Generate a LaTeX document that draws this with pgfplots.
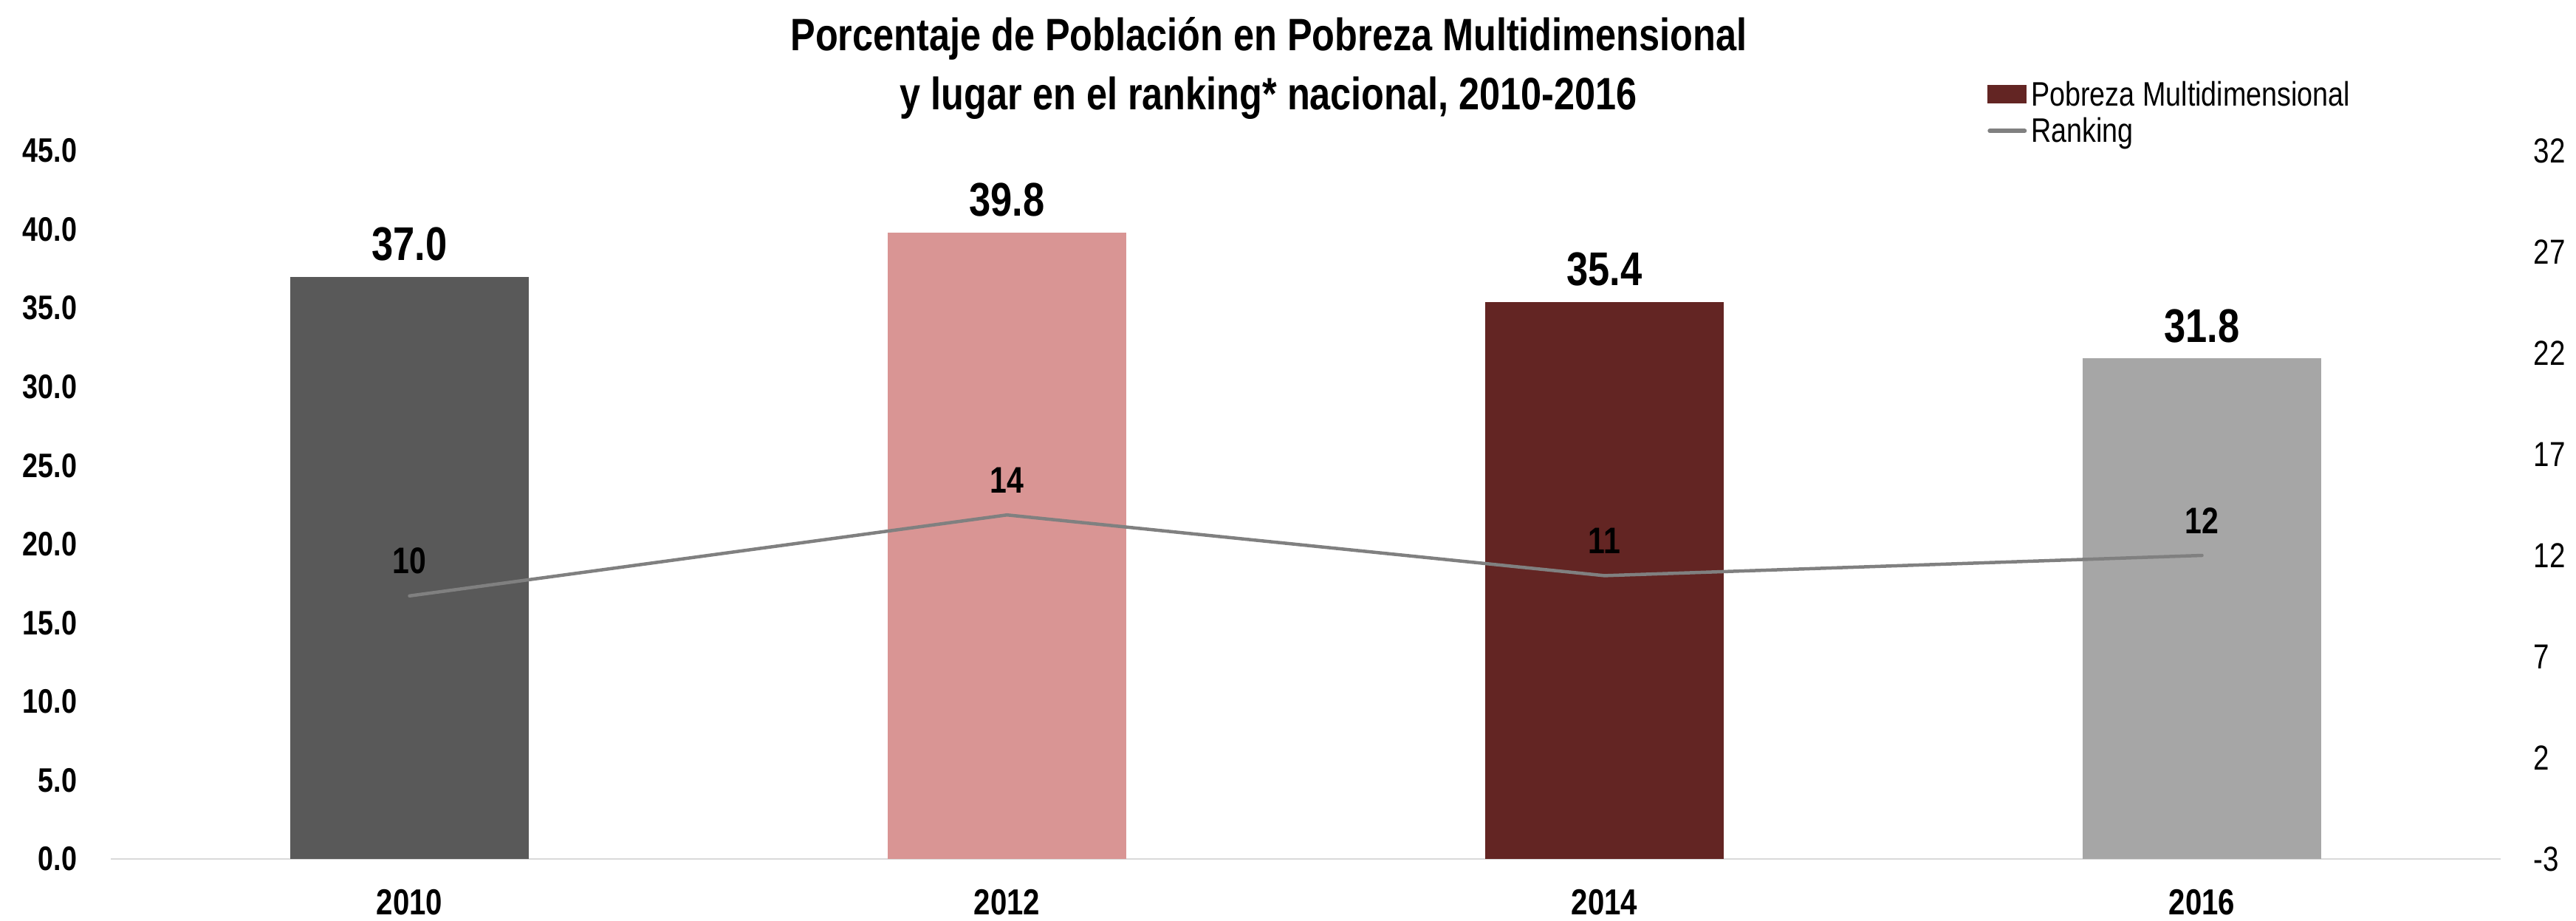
\documentclass[border=0pt]{standalone}
\usepackage{fontspec}
\setmainfont{Liberation Sans}[FakeStretch=0.82]
\usepackage{pgfplots}
\pgfplotsset{compat=1.18}
\definecolor{c2010}{HTML}{595959}
\definecolor{c2012}{HTML}{D99594}
\definecolor{c2014}{HTML}{632523}
\definecolor{c2016}{HTML}{A6A6A6}
\definecolor{cline}{HTML}{808080}
\definecolor{cbase}{HTML}{D9D9D9}
\begin{document}
\begin{tikzpicture}
\useasboundingbox (0,0) rectangle (697.6pt,249.2pt);
\begin{axis}[
  at={(30pt,16.6pt)}, anchor=south west,
  scale only axis, width=647.2pt, height=191.8pt,
  xmin=-0.5, xmax=3.5, ymin=0, ymax=45,
  clip=false,
  axis y line*=left, y axis line style={draw=none},
  axis x line*=bottom, x axis line style={draw=cbase, line width=0.5pt, -},
  tick style={draw=none}, major tick length=0pt,
  ytick={0,5,10,15,20,25,30,35,40,45},
  xtick={0,1,2,3}, xticklabels={2010,2012,2014,2016},
  /pgf/number format/assume math mode=true,
  yticklabel={\pgfmathprintnumber[fixed,fixed zerofill,precision=1]{\tick}},
  yticklabel style={font=\bfseries\fontsize{9.2}{11}\selectfont, xshift=-5.6pt},
  xticklabel style={font=\bfseries\fontsize{9.8}{11}\selectfont, yshift=-4.7pt},
  title={Porcentaje de Población en Pobreza Multidimensional\\y lugar en el ranking* nacional, 2010-2016},
  title style={at={(0.4845,1)}, anchor=south, inner sep=0pt, yshift=2.3pt, align=center,
    font=\bfseries\fontsize{12.3}{16}\selectfont},
  legend style={at={(0.785,1.101)}, anchor=north west, draw=none, fill=none,
    inner sep=0pt, row sep=0.9pt,
    font=\fontsize{9.2}{10.6}\selectfont,
    nodes={inner sep=0pt, text height=7pt, text depth=2pt},
    /tikz/every odd column/.append style={column sep=1.2pt}},
  legend cell align=left,
  every node near coord/.append style={font=\bfseries\fontsize{12.8}{14}\selectfont, yshift=0.7pt, text=black},
]
\addplot[ybar, bar width=0.4, bar shift=0pt, fill=c2010, draw=none,
  nodes near coords={\pgfmathprintnumber[fixed,fixed zerofill,precision=1]{\pgfplotspointmeta}}, forget plot]
  coordinates {(0,37.0)};
\addplot[ybar, bar width=0.4, bar shift=0pt, fill=c2012, draw=none,
  nodes near coords={\pgfmathprintnumber[fixed,fixed zerofill,precision=1]{\pgfplotspointmeta}}, forget plot]
  coordinates {(1,39.8)};
\addplot[ybar, bar width=0.4, bar shift=0pt, fill=c2014, draw=none,
  nodes near coords={\pgfmathprintnumber[fixed,fixed zerofill,precision=1]{\pgfplotspointmeta}},
  legend image code/.code={\fill[c2014] (0pt,-1.9pt) rectangle (10.6pt,3.1pt);}]
  coordinates {(2,35.4)};
\addlegendentry{Pobreza Multidimensional}
\addplot[ybar, bar width=0.4, bar shift=0pt, fill=c2016, draw=none,
  nodes near coords={\pgfmathprintnumber[fixed,fixed zerofill,precision=1]{\pgfplotspointmeta}}, forget plot]
  coordinates {(3,31.8)};
\addlegendimage{legend image code/.code={\draw[cline, line width=1.2pt, line cap=round] (0.6pt,0.6pt) -- (10pt,0.6pt);}}
\addlegendentry{Ranking}
\end{axis}
\begin{axis}[
  at={(30pt,16.6pt)}, anchor=south west,
  scale only axis, width=647.2pt, height=191.8pt,
  xmin=-0.5, xmax=3.5, ymin=-3, ymax=32,
  clip=false,
  axis y line*=right, y axis line style={draw=none},
  axis x line=none,
  tick style={draw=none}, major tick length=0pt,
  ytick={-3,2,7,12,17,22,27,32},
  /pgf/number format/assume math mode=true,
  yticklabel style={font=\fontsize{9.4}{11}\selectfont, xshift=5.4pt},
  every node near coord/.append style={font=\bfseries\fontsize{10}{12}\selectfont, yshift=2.1pt, text=black},
]
\addplot[cline, line width=0.9pt, no marks, line cap=round, nodes near coords]
  coordinates {(0,10) (1,14) (2,11) (3,12)};
\end{axis}
\end{tikzpicture}
\end{document}
